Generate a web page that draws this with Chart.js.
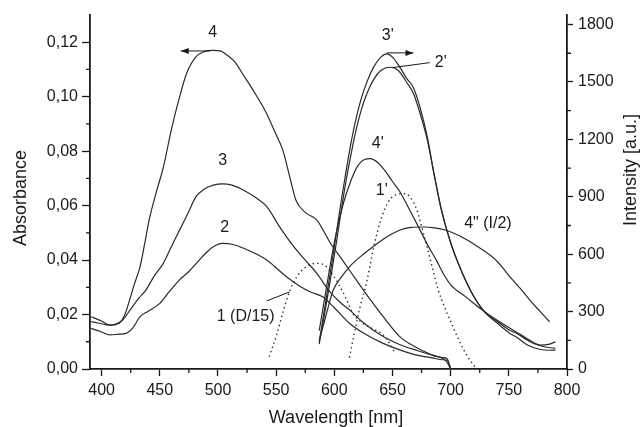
<!DOCTYPE html>
<html>
<head>
<meta charset="utf-8">
<script src="https://cdn.jsdelivr.net/npm/chart.js@4.4.0/dist/chart.umd.min.js"></script>
<style>
html, body { margin: 0; padding: 0; background: #fff; }
</style>
</head>
<body>
<canvas id="myChart" width="642" height="427"></canvas>
<script>
// tick values
const wlTicks = [400, 450, 500, 550, 600, 650, 700, 750, 800];
const absTicks = [0, 0.02, 0.04, 0.06, 0.08, 0.10, 0.12];
const intTicks = [0, 300, 600, 900, 1200, 1500, 1800];

// absorbance curves (left axis)
const wl2 = [391, 400, 407, 415, 421, 427, 433, 440, 450, 458, 467, 475, 484, 490, 496, 504, 512, 524, 533, 542, 553, 560, 570, 580, 590, 600, 613, 625, 642, 655, 670, 685, 693, 697, 700];
const abs2 = [0.0149, 0.0136, 0.0125, 0.0128, 0.0131, 0.0152, 0.0192, 0.0212, 0.0241, 0.0283, 0.0327, 0.0358, 0.0400, 0.0428, 0.0449, 0.0461, 0.0458, 0.0440, 0.0422, 0.0400, 0.0360, 0.0335, 0.0305, 0.0282, 0.0265, 0.0225, 0.0168, 0.0132, 0.0094, 0.0072, 0.0052, 0.0040, 0.0034, 0.0032, 0.0000];

const wl3 = [391, 398, 407, 418, 425, 432, 438, 445, 453, 460, 467, 474, 481, 488, 496, 504, 512, 524, 533, 542, 553, 565, 575, 585, 595, 605, 613, 625, 642, 656, 671, 685, 693, 697, 700];
const abs3 = [0.0174, 0.0168, 0.0161, 0.0180, 0.0220, 0.0260, 0.0290, 0.0340, 0.0388, 0.0450, 0.0510, 0.0570, 0.0632, 0.0660, 0.0675, 0.0680, 0.0675, 0.0652, 0.0628, 0.0596, 0.0522, 0.0450, 0.0400, 0.0351, 0.0290, 0.0245, 0.0217, 0.0170, 0.0119, 0.0090, 0.0068, 0.0050, 0.0042, 0.0038, 0.0000];

const wl4 = [391, 400, 407, 415, 420, 424, 428, 433, 437, 441, 447, 453, 460, 467, 473, 481, 488, 496, 502, 508, 515, 521, 530, 541, 549, 556, 562, 567, 575, 585, 597, 607, 620, 630, 642, 656, 671, 685, 696, 700];
const abs4 = [0.0192, 0.0176, 0.0161, 0.0168, 0.0200, 0.0253, 0.0310, 0.0375, 0.0460, 0.0550, 0.0650, 0.0740, 0.0880, 0.0999, 0.1085, 0.1146, 0.1165, 0.1170, 0.1168, 0.1152, 0.1125, 0.1085, 0.1025, 0.0945, 0.0870, 0.0800, 0.0700, 0.0620, 0.0575, 0.0547, 0.0460, 0.0400, 0.0320, 0.0260, 0.0192, 0.0120, 0.0078, 0.0050, 0.0030, 0.0000];

const wl1 = [544, 550, 556, 562, 568, 574, 580, 586, 592, 598, 604, 610, 616, 624, 632, 642, 648, 652];
const abs1 = [0.0045, 0.0120, 0.0210, 0.0290, 0.0340, 0.0370, 0.0385, 0.0388, 0.0380, 0.0350, 0.0310, 0.0260, 0.0204, 0.0170, 0.0150, 0.0125, 0.0090, 0.0058];

// emission curves (right axis)
const wl1p = [613, 617, 622, 628, 634, 640, 647, 653, 659, 665, 671, 677, 683, 689, 695, 702, 708, 714, 721];
const int1p = [60, 180, 320, 460, 640, 780, 880, 910, 917, 900, 830, 700, 560, 420, 320, 220, 140, 70, 10];

const wl3p = [587, 592, 597, 602, 606, 610, 614, 618, 623, 628, 634, 640, 645, 650, 656, 662, 668, 674, 680, 686, 692, 700, 708, 718, 728, 740, 750, 757, 766, 777, 785, 790];
const int3p = [140, 330, 520, 720, 882, 1030, 1170, 1290, 1410, 1500, 1580, 1630, 1647, 1630, 1580, 1520, 1470, 1360, 1210, 1010, 835, 660, 530, 400, 308, 250, 205, 186, 150, 125, 130, 142];

const wl2p = [587, 592, 597, 602, 606, 610, 614, 618, 623, 628, 634, 640, 648, 655, 662, 668, 674, 680, 686, 692, 700, 708, 718, 728, 740, 750, 757, 766, 777, 785, 790];
const int2p = [130, 300, 480, 670, 830, 980, 1110, 1230, 1350, 1440, 1515, 1560, 1577, 1560, 1500, 1440, 1330, 1195, 1010, 830, 660, 530, 400, 305, 240, 190, 165, 125, 102, 98, 99];

const wl4p = [587, 592, 597, 602, 608, 614, 620, 626, 631, 637, 643, 650, 656, 664, 673, 680, 688, 694, 700, 713, 728, 740, 756, 768, 778, 790];
const int4p = [200, 380, 560, 720, 870, 980, 1060, 1095, 1099, 1080, 1040, 980, 930, 840, 735, 650, 565, 495, 440, 377, 305, 255, 195, 150, 120, 108];

const wl4pp = [587, 592, 599, 606, 613, 623, 633, 645, 656, 666, 676, 686, 696, 708, 719, 728, 737, 744, 751, 760, 768, 777, 785];
const int4pp = [150, 260, 412, 480, 534, 590, 638, 690, 725, 740, 742, 738, 725, 695, 656, 620, 580, 535, 481, 420, 360, 300, 247];

// curve labels, anchored in data units
const curveLabels = ['4', '3', '2', '1 (D/15)', "3'", "2'", "4'", "1'", '4" (I/2)'];
const labelWl = [495.4, 504, 505.7, 523.8, 645.9, 691.5, 637.3, 640.8, 732];
const labelVal = [0.1237, 0.0767, 0.0521, 0.0191, 1742, 1601, 1179, 934, 762];
const labelAxis = ['y', 'y', 'y', 'y', 'y1', 'y1', 'y1', 'y1', 'y1'];

const INK = '#1a1a1a';
const FONT = '"Liberation Sans", Arial, sans-serif';

function pts(xs, ys) {
    return xs.map((x, i) => ({x: x, y: ys[i]}));
}

function line(label, xs, ys, axis, dotted) {
    return {
        label: label,
        data: pts(xs, ys),
        yAxisID: axis,
        borderColor: '#2a2a2a',
        borderWidth: dotted ? 1.4 : 1.2,
        borderDash: dotted ? [1.4, 3.2] : [],
        pointRadius: 0,
        cubicInterpolationMode: 'monotone',
        fill: false,
    };
}

function useTicks(values) {
    return function(scale) {
        scale.ticks = values.map(v => ({value: v}));
    };
}

function arrow(c, x1, y1, x2, y2) {
    c.beginPath(); c.moveTo(x1, y1); c.lineTo(x2, y2); c.stroke();
    const d = x2 > x1 ? 1 : -1;
    c.beginPath();
    c.moveTo(x2, y2);
    c.lineTo(x2 - d * 8, y2 - 3);
    c.lineTo(x2 - d * 8, y2 + 3);
    c.closePath(); c.fill();
}

const notes = {
    id: 'notes',
    afterDraw(chart) {
        const c = chart.ctx;
        const sx = chart.scales.x, sy = chart.scales.y, sy1 = chart.scales.y1;
        c.save();
        c.fillStyle = INK; c.strokeStyle = INK; c.lineWidth = 1;
        c.font = '16px ' + FONT;
        c.textAlign = 'center'; c.textBaseline = 'middle';
        curveLabels.forEach((t, i) => {
            c.fillText(t, sx.getPixelForValue(labelWl[i]), chart.scales[labelAxis[i]].getPixelForValue(labelVal[i]));
        });

        // leader lines
        c.beginPath();
        c.moveTo(sx.getPixelForValue(541.8), sy.getPixelForValue(0.0250));
        c.lineTo(sx.getPixelForValue(561.6), sy.getPixelForValue(0.0283));
        c.moveTo(sx.getPixelForValue(650.2), sy1.getPixelForValue(1575));
        c.lineTo(sx.getPixelForValue(682), sy1.getPixelForValue(1601));
        c.stroke();

        // axis arrows
        arrow(c, sx.getPixelForValue(493), sy.getPixelForValue(0.1168), sx.getPixelForValue(468), sy.getPixelForValue(0.1168));
        arrow(c, sx.getPixelForValue(645), sy1.getPixelForValue(1652), sx.getPixelForValue(668), sy1.getPixelForValue(1652));

        // minor ticks
        c.lineWidth = 1.3;
        c.beginPath();
        for (let v = 425; v < 800; v += 50) {
            const p = sx.getPixelForValue(v);
            c.moveTo(p, sx.top); c.lineTo(p, sx.top + 4);
        }
        for (let v = 0.01; v < 0.13; v += 0.02) {
            const p = sy.getPixelForValue(v);
            c.moveTo(sy.right, p); c.lineTo(sy.right - 4, p);
        }
        for (let v = 150; v < 1850; v += 300) {
            const p = sy1.getPixelForValue(v);
            c.moveTo(sy1.left, p); c.lineTo(sy1.left + 4, p);
        }
        c.stroke();

        // axis titles
        c.font = '18px ' + FONT;
        c.fillText('Wavelength [nm]', 336, 418);
        c.save();
        c.translate(21, 198); c.rotate(-Math.PI / 2);
        c.fillText('Absorbance', 0, 0);
        c.restore();
        c.save();
        c.translate(631, 170); c.rotate(-Math.PI / 2);
        c.fillText('Intensity [a.u.]', 0, 0);
        c.restore();
        c.restore();
    }
};

const ctx = document.getElementById('myChart').getContext('2d');
const myChart = new Chart(ctx, {
    type: 'line',
    data: {
        datasets: [
            line('2', wl2, abs2, 'y', false),
            line('3', wl3, abs3, 'y', false),
            line('4', wl4, abs4, 'y', false),
            line('1 (D/15)', wl1, abs1, 'y', true),
            line("1'", wl1p, int1p, 'y1', true),
            line("2'", wl2p, int2p, 'y1', false),
            line("3'", wl3p, int3p, 'y1', false),
            line("4'", wl4p, int4p, 'y1', false),
            line('4" (I/2)', wl4pp, int4pp, 'y1', false),
        ]
    },
    options: {
        responsive: false,
        animation: false,
        devicePixelRatio: 1,
        layout: { padding: { top: 15 } },
        plugins: {
            legend: { display: false },
            tooltip: { enabled: false },
        },
        scales: {
            x: {
                type: 'linear',
                min: 390,
                max: 800,
                afterBuildTicks: useTicks(wlTicks),
                afterFit: s => { s.height = 58; },
                border: { color: INK, width: 1.8 },
                grid: { drawOnChartArea: false, tickLength: 7, tickColor: INK, tickWidth: 1.3 },
                ticks: { padding: 5, color: INK, font: { size: 16, family: FONT }, callback: v => String(v) },
            },
            y: {
                position: 'left',
                min: 0,
                max: 0.13,
                afterBuildTicks: useTicks(absTicks),
                afterFit: s => { s.width = 90; },
                border: { color: INK, width: 1.8 },
                grid: { drawOnChartArea: false, tickLength: 8, tickColor: INK, tickWidth: 1.3 },
                ticks: {
                    padding: 4, color: INK, font: { size: 16, family: FONT },
                    callback: v => v.toFixed(2).replace('.', ','),
                },
            },
            y1: {
                position: 'right',
                min: 0,
                max: 1850,
                afterBuildTicks: useTicks(intTicks),
                afterFit: s => { s.width = 75; },
                border: { color: INK, width: 1.8 },
                grid: { drawOnChartArea: false, tickLength: 6, tickColor: INK, tickWidth: 1.3 },
                ticks: { padding: 5, color: INK, font: { size: 16, family: FONT }, callback: v => String(v) },
            },
        }
    },
    plugins: [notes]
});
</script>
</body>
</html>
